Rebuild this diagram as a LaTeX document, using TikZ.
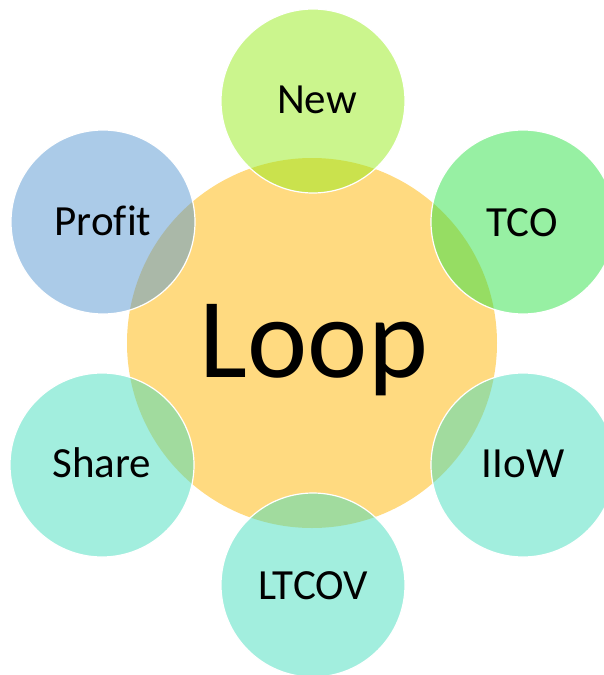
\documentclass[tikz,border=0pt]{standalone}
\usepackage{fontspec}
\setmainfont{Carlito}[Ligatures=NoCommon]
\definecolor{coreY}{RGB}{255,218,128}
\definecolor{cNew}{RGB}{151,235,27}
\definecolor{cTCO}{RGB}{47,225,71}
\definecolor{cProfit}{RGB}{87,151,209}
\definecolor{cTeal}{RGB}{69,221,189}
\tikzset{
  outer/.style={circle, minimum size=184pt, inner sep=0pt, draw=white, line width=1.2pt, fill opacity=0.5, draw opacity=1},
  lbl/.style={font=\fontsize{43}{48}\selectfont, anchor=base, text=black, inner sep=0pt},
}
\begin{document}
\begin{tikzpicture}[x=1pt,y=-1pt]
\useasboundingbox (0,0) rectangle (604,675);
\node[circle, minimum size=370pt, inner sep=0pt, fill=coreY] (core) at (312,343) {};
\node[font=\fontsize{114}{130}\selectfont, anchor=base, inner sep=0pt] (loop) at (314,377) {Loop};
\node[outer, fill=cNew] (new) at (313,101) {};
\node[outer, fill=cTCO] (tco) at (523,222) {};
\node[outer, fill=cProfit] (profit) at (103,222) {};
\node[outer, fill=cTeal] (share) at (102,465) {};
\node[outer, fill=cTeal] (iiow) at (523,465) {};
\node[outer, fill=cTeal] (ltcov) at (313,585) {};
\node[lbl] (tnew) at (317,113) {New};
\node[lbl] (ttco) at (522,236) {TCO};
\node[lbl] (tprofit) at (103,235) {Profit};
\node[lbl] (tshare) at (102,477) {Share};
\node[lbl] (tiiow) at (523,477) {IIoW};
\node[lbl] (tltcov) at (313,599) {LTCOV};
\end{tikzpicture}
\end{document}
